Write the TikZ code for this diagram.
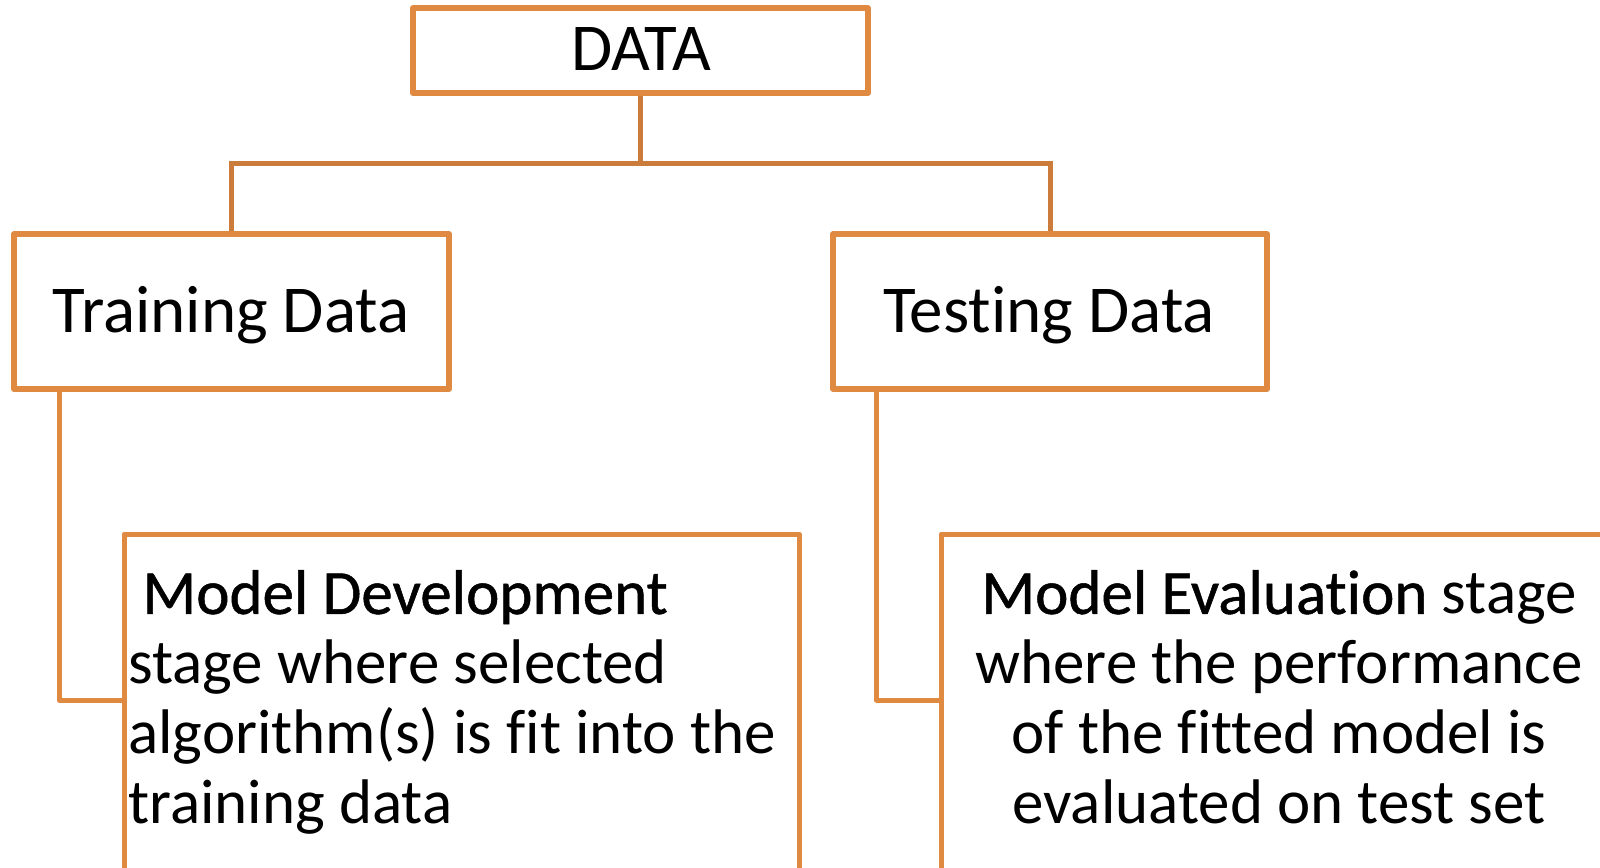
\documentclass[tikz,border=0pt]{standalone}
\usepackage{fontspec}
\setmainfont{Carlito}[Ligatures=NoCommon]
\newfontfamily\headfont{Carlito}[Ligatures=NoCommon, FakeBold=0.8]
\definecolor{boxorange}{RGB}{224,137,64}
\definecolor{linkorange}{RGB}{203,123,58}
\begin{document}
\begin{tikzpicture}[x=1pt,y=-1pt,
  box/.style={draw=boxorange, line width=5.5pt, line join=round, fill=white, inner sep=0pt},
  link/.style={draw=linkorange, line width=5pt},
  sublink/.style={draw=boxorange, line width=5pt, line join=round},
  bigtext/.style={font=\fontsize{67}{80}\selectfont, text=black},
  bodytext/.style={font=\fontsize{63}{70}\selectfont, text=black, inner sep=0pt}]
\useasboundingbox (0,0) rectangle (1600,867);
\clip (0,0) rectangle (1600,867);
% top tree
\node[box, minimum width=455pt, minimum height=85pt] (data) at (640.5,50.5) {};
\node[bigtext, anchor=base] (datatext) at (641,70.5) {DATA};
\node[box, minimum width=435pt, minimum height=155pt] (train) at (231.5,311.5) {};
\node[bigtext, anchor=base] (traintext) at (231,332) {Training Data};
\node[box, minimum width=434pt, minimum height=155pt] (test) at (1050,311.5) {};
\node[bigtext, anchor=base] (testtext) at (1049,332) {Testing Data};
\coordinate (bus) at (640.5,163);
\draw[link] (data.south) -- (bus);
\draw[link] (bus) -| (train.north);
\draw[link] (bus) -| (test.north);
% stage boxes
\node[box, minimum width=675pt, minimum height=400pt, anchor=north west] (md) at (121.5,531.5) {};
\node[box, minimum width=700pt, minimum height=400pt, anchor=north west] (me) at (938.5,531.5) {};
\coordinate (tk) at (59,700);
\coordinate (sk) at (876.5,700);
\draw[sublink] (tk |- train.south) -- (tk) -- (tk -| md.west);
\draw[sublink] (sk |- test.south) -- (sk) -- (sk -| me.west);
% texts
\node[bodytext, anchor=north west, align=left] (mdtext) at (128,570)
  {\ {\headfont Model Development}\\stage where selected\\algorithm(s) is fit into the\\training data};
\node[bodytext, anchor=north, align=center] (metext) at (1279,570)
  {{\headfont Model Evaluation} stage\\where the performance\\of the fitted model is\\evaluated on test set};
\end{tikzpicture}
\end{document}
